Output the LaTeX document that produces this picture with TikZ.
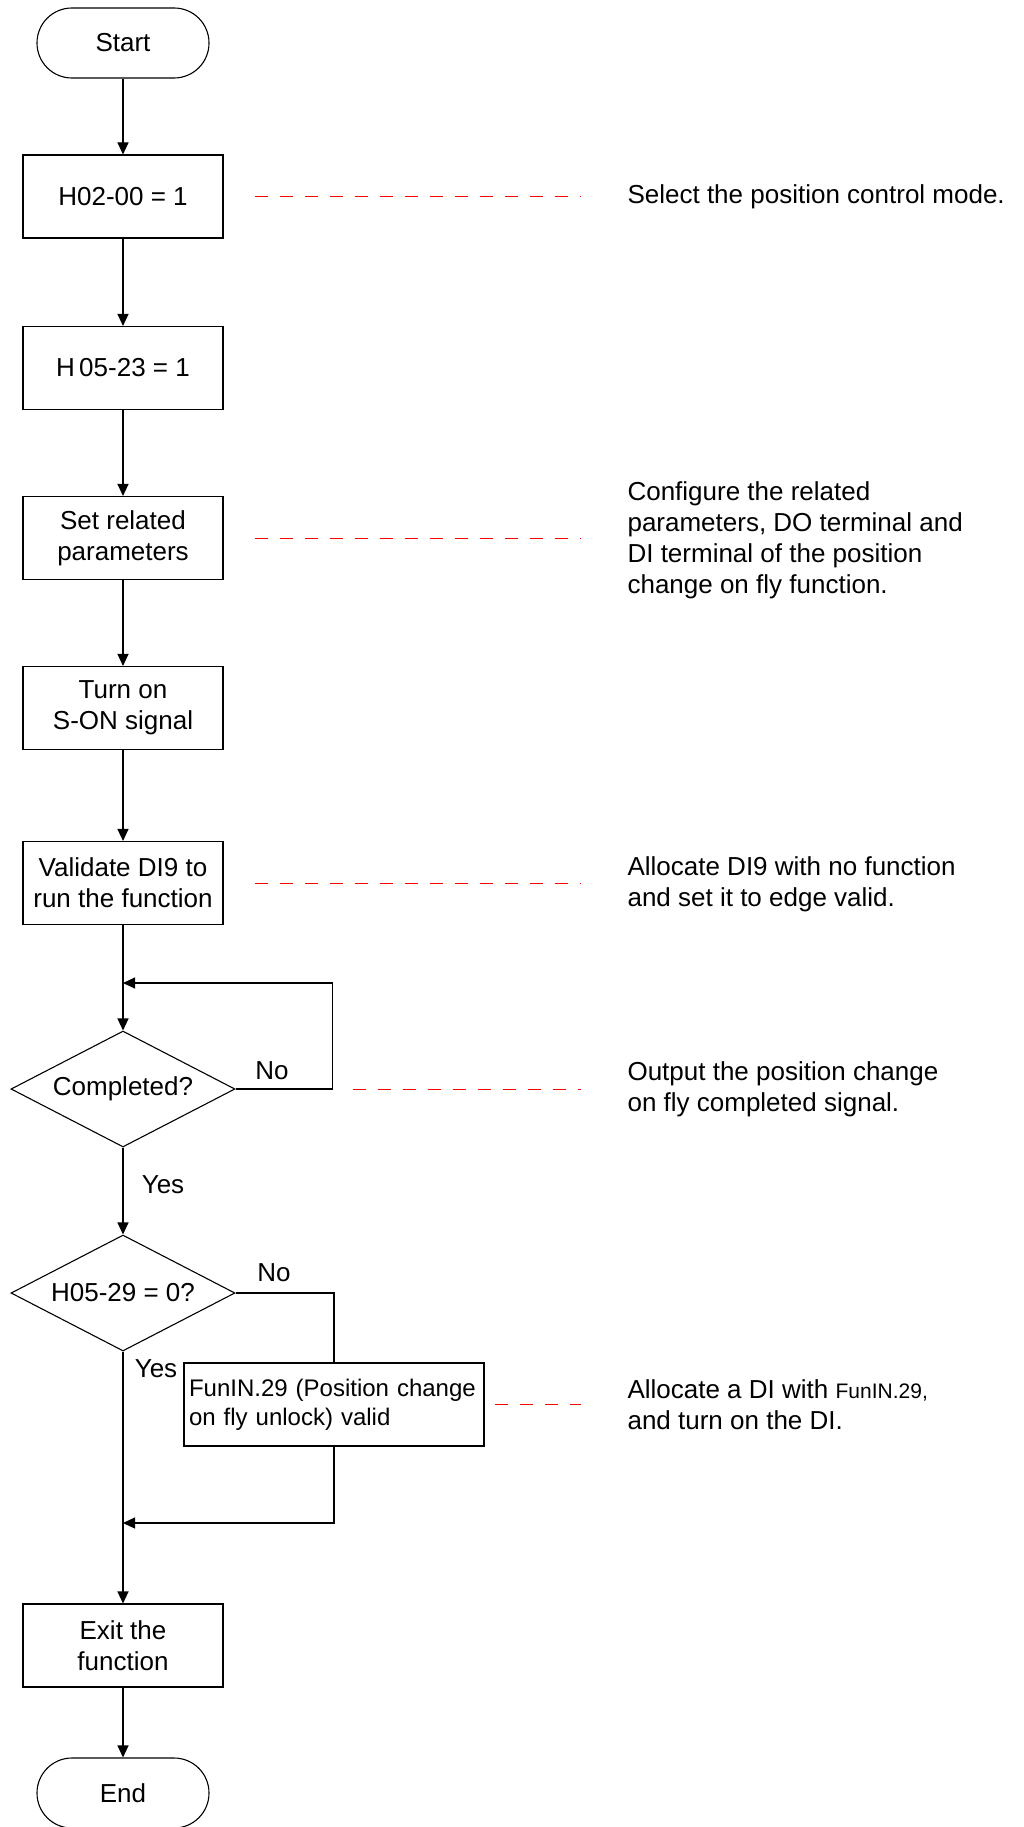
\documentclass[tikz,border=0pt]{standalone}
\usepackage{fontspec}
\setmainfont{Liberation Sans}
\usetikzlibrary{shapes.geometric,arrows.meta}

\tikzset{
  base/.style={font=\fontsize{26}{31}\selectfont},
  term/.style={base,draw,rectangle,rounded corners=34.9pt,minimum width=172pt,minimum height=70pt,inner sep=0pt},
  stepbox/.style={base,draw,rectangle,minimum width=200pt,minimum height=83pt,align=center,inner sep=0pt},
  decide/.style={base,draw,diamond,aspect=1.93,minimum width=224pt,minimum height=116pt,inner sep=0pt},
  note/.style={base,anchor=west,align=left,inner sep=0pt},
  lbl/.style={base,inner sep=0pt},
  flow/.style={-{Triangle[length=12pt,width=11pt]}},
  hint/.style={red,line width=1pt,dash pattern=on 13pt off 12pt},
}

\begin{document}
\begin{tikzpicture}[x=1pt,y=-1pt,line width=1.1pt]
\useasboundingbox (0,0) rectangle (1024,1827);
% flow column
\node[term] (start) at (123,43) {Start};
\node[stepbox] (b1) at (123,196.5) {H02-00 = 1};
\node[stepbox] (b2) at (123,368) {H\,05-23 = 1};
\node[stepbox] (b3) at (123,538) {Set related\\parameters};
\node[stepbox] (b4) at (123,708) {Turn on\\S-ON signal};
\node[stepbox] (b5) at (123,883) {Validate DI9 to\\run the function};
\node[decide] (d1) at (123,1089) {Completed?};
\node[decide] (d2) at (123,1293) {H05-29 = 0?};
\node[stepbox,minimum width=300pt,text width=290pt,align=left,font=\fontsize{24}{29}\selectfont] (unlock) at (334,1404.5) {FunIN.29 (Position change\\on fly unlock) valid};
\node[stepbox] (quit) at (123,1645.5) {Exit the\\function};
\node[term] (stop) at (123,1793) {End};
\coordinate (loop) at (123,983);
\coordinate (join) at (123,1523);

% notes
\node[note] (n1) at (627,197) {Select the position control mode.};
\node[note] (n3) at (627,540) {Configure the related\\parameters, DO terminal and\\DI terminal of the position\\change on fly function.};
\node[note] (n5) at (627,884) {Allocate DI9 with no function\\and set it to edge valid.};
\node[note] (n6) at (627,1089) {Output the position change\\on fly completed signal.};
\node[note] (n8) at (627,1405) {Allocate a DI with {\fontsize{21}{31}\selectfont FunIN.29,}\\and turn on the DI.};

% connectors
\draw[flow] (start) -- (b1);
\draw[flow] (b1) -- (b2);
\draw[flow] (b2) -- (b3);
\draw[flow] (b3) -- (b4);
\draw[flow] (b4) -- (b5);
\draw[flow] (b5) -- (d1);
\draw[flow] (d1.east) -- ++(97,0) |- (loop);
\draw[flow] (d1) -- (d2);
\draw (d2.east) -| (unlock.north);
\draw[flow] (unlock.south) |- (join);
\draw[flow] (d2) -- (quit);
\draw[flow] (quit) -- (stop);
\node[lbl] (no1) at (272,1071) {No};
\node[lbl] (yes1) at (163,1185) {Yes};
\node[lbl] (no2) at (274,1273) {No};
\node[lbl] (yes2) at (156,1369) {Yes};

% dashed hints
\draw[hint] ([xshift=31pt]b1.east) -- ++(326,0);
\draw[hint] ([xshift=31pt]b3.east) -- ++(326,0);
\draw[hint] ([xshift=31pt]b5.east) -- ++(326,0);
\draw[hint] ([xshift=117pt]d1.east) -- ++(228,0);
\draw[hint] ([xshift=10pt]unlock.east) -- ++(86,0);
\end{tikzpicture}
\end{document}
